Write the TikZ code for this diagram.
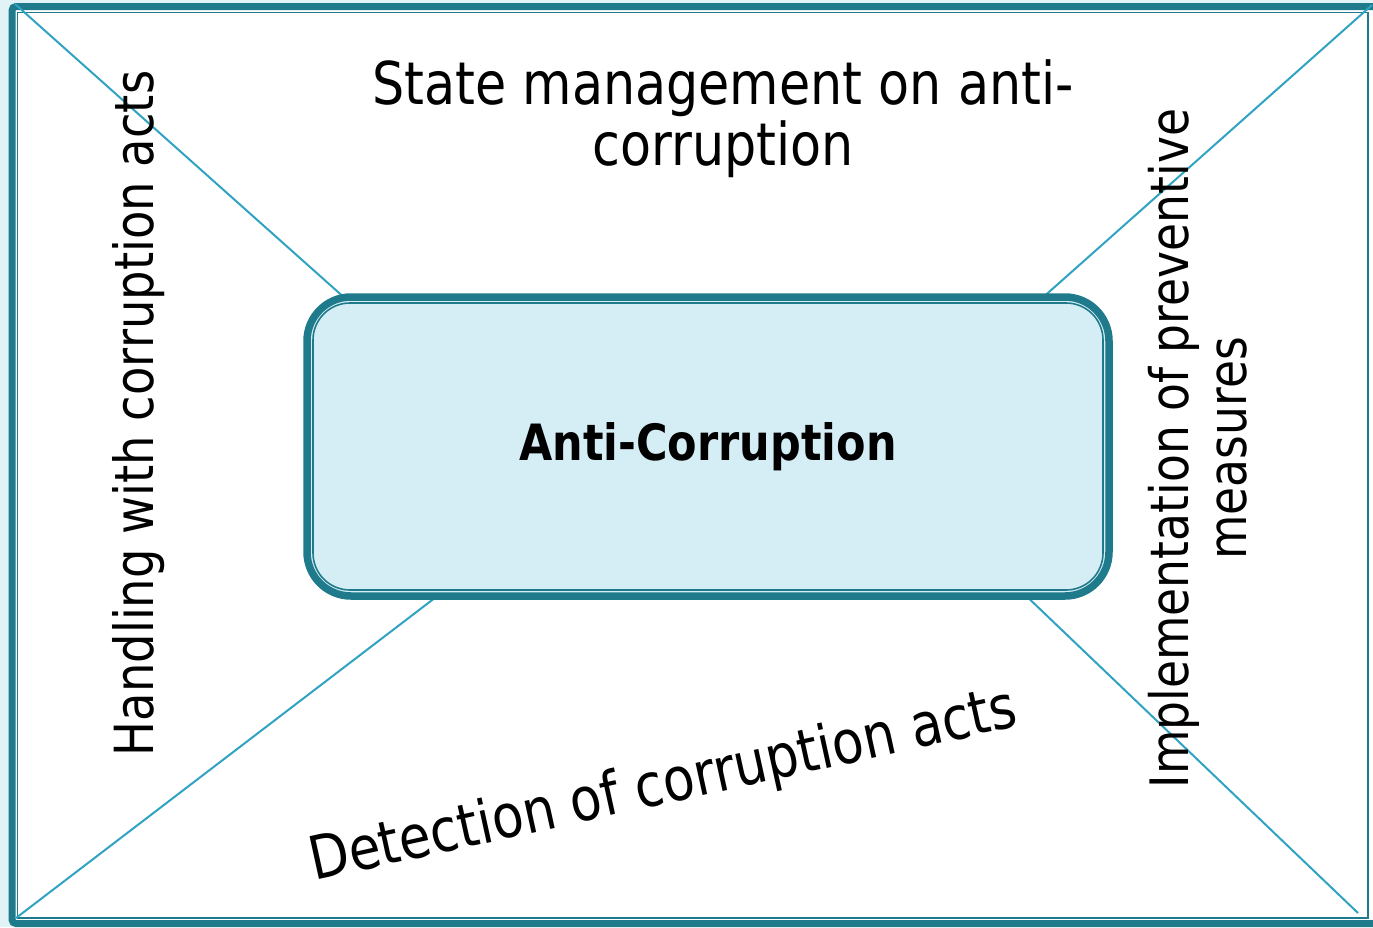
\documentclass[tikz,border=0pt]{standalone}
\usepackage{fontspec}
\setmainfont{DejaVu Sans}[FakeStretch=0.86]
\definecolor{frameteal}{HTML}{1F7A8C}
\definecolor{diagblue}{HTML}{30A3C2}
\definecolor{boxfill}{HTML}{D5EEF5}
\definecolor{pagebg}{HTML}{E2F3F8}
\newcommand{\txtsize}[2]{\fontsize{#1pt}{#2pt}\selectfont}

\begin{document}
\begin{tikzpicture}[x=1pt,y=-1pt,
    diag/.style={draw=diagblue,line width=2pt},
    lbl/.style={inner sep=0pt,text=black},
    corebox/.style={draw=frameteal,line width=7.5pt,fill=boxfill,rounded corners=44pt,
      minimum width=802pt,minimum height=299pt,inner sep=0pt},
    coreline/.style={draw=frameteal,line width=1.6pt,rounded corners=37pt,
      minimum width=790pt,minimum height=287pt,inner sep=0pt}]
  \useasboundingbox (0,0) rectangle (1373,927);
  \fill[pagebg] (0,0) rectangle (1373,927);

  % frame
  \draw[frameteal,line width=7pt,rounded corners=4pt,fill=white] (12,6.5) rectangle (1385,923.5);
  \draw[frameteal,line width=1.5pt] (17.5,12.5) rectangle (1368,918);

  % corner ends and box ends
  \coordinate (tl) at (15,4);
  \coordinate (tr) at (1372,5);
  \coordinate (bl) at (16,918);
  \coordinate (br) at (1358,913);
  \coordinate (tlin) at (347,300);
  \coordinate (trin) at (1040,300);
  \coordinate (blin) at (440,594);
  \coordinate (brin) at (1020,590);
  \draw[diag] (tl) -- (tlin);
  \draw[diag] (tr) -- (trin);
  \draw[diag] (bl) -- (blin);
  \draw[diag] (br) -- (brin);

  % centre box
  \node[corebox,font=\bfseries\txtsize{50}{58}] (core) at (708,446.5) {Anti-Corruption};
  \node[coreline] (coreinner) at (core.center) {};

  % labels
  \node[lbl,align=center,font=\txtsize{59}{61}] (statemgmt) at (723,119)
    {State management on anti-\\corruption};
  \node[lbl,rotate=90,anchor=base,font=\txtsize{54}{58}] (handling) at (153,413.5)
    {Handling with corruption acts};
  \node[lbl,rotate=90,align=center,font=\txtsize{53}{58}] (preventive) at (1198,448.5)
    {Implementation of preventive\\measures};
  \node[lbl,rotate=12.4,anchor=base west,font=\txtsize{60}{62}] (detection) at (314,881)
    {Detection of corruption acts};
\end{tikzpicture}
\end{document}
